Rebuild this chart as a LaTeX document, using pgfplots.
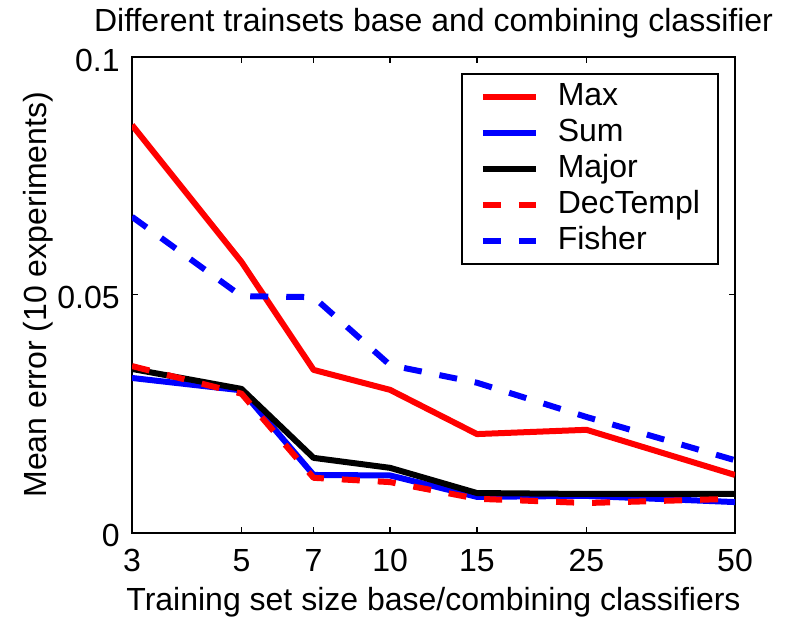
\documentclass[border=0pt]{standalone}
\usepackage{pgfplots}
\pgfplotsset{compat=1.18}
\usepackage{fontspec}
\setmainfont{Liberation Sans}

% Mean error per combining rule for growing training sets
\pgfplotstableread{
n    max     sum     major   dectempl fisher
3    0.0857  0.0325  0.0344  0.0350   0.0664
5    0.0569  0.0299  0.0302  0.0292   0.0497
7    0.0342  0.0121  0.0157  0.0115   0.0495
10   0.0300  0.0120  0.0136  0.0106   0.0352
15   0.0207  0.0075  0.0083  0.0071   0.0315
25   0.0216  0.0077  0.0081  0.0062   0.0243
50   0.0121  0.0064  0.0081  0.0071   0.0152
}\errtable

\begin{document}
\begin{tikzpicture}
\useasboundingbox (-66pt,-42.75pt) rectangle (330pt,266.25pt);
\begin{axis}[
  at={(0,0)}, anchor=south west,
  scale only axis,
  width=301.5pt, height=237.75pt,
  xmode=log,
  xmin=3, xmax=50, ymin=0, ymax=0.1,
  xtick={3,5,7,10,15,25,50},
  xticklabels={3,5,7,10,15,25,50},
  ytick={0,0.05,0.1},
  yticklabels={0,0.05,0.1},
  minor xtick={}, minor ytick={},
  tick align=inside,
  major tick length=3pt,
  every tick/.style={black, line width=0.6pt},
  axis line style={line width=1pt},
  font=\fontsize{16}{19}\selectfont,
  ticklabel style={font=\fontsize{16}{19}\selectfont},
  xticklabel style={anchor=base, inner sep=0pt, yshift=-19.25pt},
  yticklabel style={anchor=east, inner sep=0pt, xshift=-6pt, yshift=-1.5pt},
  /pgf/number format/assume math mode=true,
  title={Different trainsets base and combining classifier},
  title style={at={(axis description cs:0.5,1.0526)}, anchor=base, yshift=-6pt},
  xlabel={Training set size base/combining classifiers},
  xlabel style={at={(axis description cs:0.5,-0.165)}, anchor=base},
  ylabel={Mean error (10 experiments)},
  ylabel style={at={(axis description cs:-0.1426,0.5)}, anchor=base},
  legend cell align=left,
  legend image code/.code={\draw[#1] (0pt,0pt) -- (26.5pt,0pt);},
  legend style={
    at={(0.9735,0.9664)}, anchor=north east,
    draw=black, line width=1pt,
    font=\fontsize{16}{18}\selectfont,
    inner xsep=9pt, inner ysep=4pt,
    row sep=3pt, column sep=9.5pt,
    nodes={inner sep=0pt, text height=12pt, text depth=3pt},
  },
  every axis plot/.append style={line width=3pt, line join=round},
]
\addplot[red]  table[x=n, y=max]      {\errtable};
\addlegendentry{Max}
\addplot[blue] table[x=n, y=sum]      {\errtable};
\addlegendentry{Sum}
\addplot[black] table[x=n, y=major]   {\errtable};
\addlegendentry{Major}
\addplot[red, dash pattern=on 9pt off 9pt]  table[x=n, y=dectempl] {\errtable};
\addlegendentry{DecTempl}
\addplot[blue, dash pattern=on 9pt off 9pt] table[x=n, y=fisher]   {\errtable};
\addlegendentry{Fisher}
\end{axis}
\end{tikzpicture}
\end{document}
